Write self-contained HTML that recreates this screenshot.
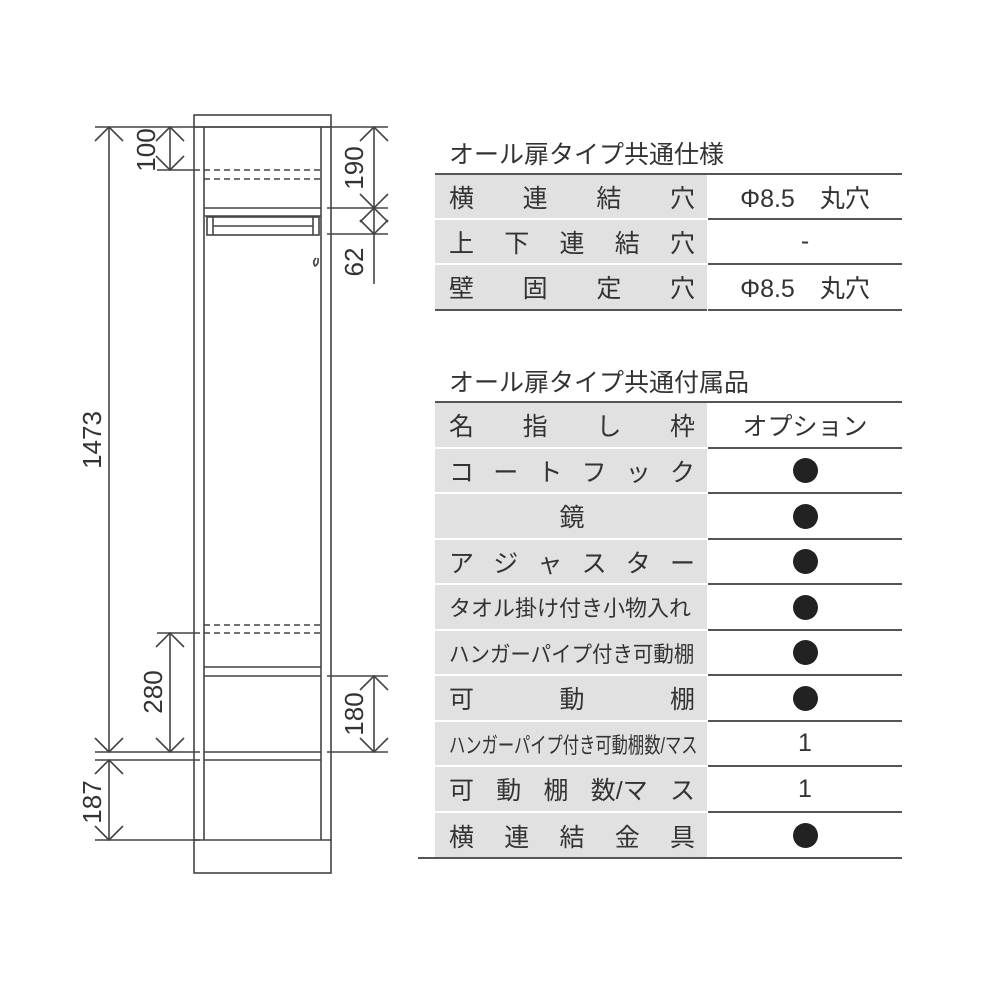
<!DOCTYPE html>
<html><head><meta charset="utf-8"><style>
body{margin:0;background:#fff;}
#w{position:relative;width:1000px;height:1000px;overflow:hidden;font-family:"Liberation Sans","Noto Sans CJK JP",sans-serif;color:#333;}
.t{position:absolute;font-size:25px;left:449px;white-space:nowrap;}
.tb{position:absolute;left:435px;width:467px;}
.r{position:absolute;left:0;width:467px;}
.l{position:absolute;left:0;top:0;bottom:2px;width:272px;background:#e1e1e1;display:flex;justify-content:space-between;align-items:center;padding:0 12px 0 14px;box-sizing:border-box;font-size:25px;white-space:nowrap;}
.v{position:absolute;left:273px;right:0;top:0;bottom:0;border-bottom:2px solid #555;display:flex;justify-content:center;align-items:center;font-size:25px;white-space:nowrap;}
.d{width:25px;height:25px;border-radius:50%;background:#222;}
.s{display:inline-block;transform-origin:left center;}
</style></head><body><div id="w">
<svg width="1000" height="1000" style="position:absolute;left:0;top:0" stroke="#444" fill="none" stroke-width="1.6">
<rect x="194" y="115" width="137" height="758"/>
<line x1="194" y1="127" x2="331" y2="127"/>
<line x1="204" y1="127" x2="204" y2="840"/>
<line x1="321" y1="127" x2="321" y2="840"/>
<line x1="194" y1="840" x2="331" y2="840"/>
<g stroke-dasharray="6,4"><line x1="204" y1="170" x2="321" y2="170"/><line x1="204" y1="179" x2="321" y2="179"/><line x1="204" y1="625" x2="321" y2="625"/><line x1="204" y1="633" x2="321" y2="633"/></g>
<line x1="204" y1="208" x2="321" y2="208"/><line x1="204" y1="216" x2="321" y2="216"/>
<rect x="207" y="217" width="112" height="18"/><line x1="213" y1="217" x2="213" y2="235"/><line x1="313" y1="217" x2="313" y2="235"/><line x1="213" y1="226" x2="313" y2="226"/>
<path d="M316 258 q-4 4 -1 8 q4 -2 3 -8"/>
<line x1="204" y1="667" x2="321" y2="667"/><line x1="204" y1="676" x2="321" y2="676"/>
<line x1="204" y1="752" x2="321" y2="752"/><line x1="204" y1="760" x2="321" y2="760"/>
<line x1="95" y1="127" x2="388" y2="127"/>
<line x1="157" y1="170" x2="200" y2="170"/>
<line x1="157" y1="633" x2="200" y2="633"/>
<line x1="95" y1="752" x2="200" y2="752"/><line x1="95" y1="760" x2="200" y2="760"/>
<line x1="95" y1="840" x2="200" y2="840"/>
<line x1="327" y1="208" x2="388" y2="208"/><line x1="327" y1="234" x2="388" y2="234"/>
<line x1="327" y1="676" x2="388" y2="676"/><line x1="327" y1="752" x2="388" y2="752"/>
<line x1="109" y1="127" x2="109" y2="752"/>
<line x1="109" y1="760" x2="109" y2="840"/>
<line x1="170" y1="127" x2="170" y2="170"/>
<line x1="170" y1="633" x2="170" y2="752"/>
<line x1="374" y1="127" x2="374" y2="284"/>
<line x1="374" y1="676" x2="374" y2="752"/>
<g>
<path d="M95 141 L109 127 L123 141"/><path d="M95 738 L109 752 L123 738"/>
<path d="M95 774 L109 760 L123 774"/><path d="M95 826 L109 840 L123 826"/>
<path d="M156 141 L170 127 L184 141"/><path d="M156 156 L170 170 L184 156"/>
<path d="M156 647 L170 633 L184 647"/><path d="M156 738 L170 752 L184 738"/>
<path d="M360 141 L374 127 L388 141"/><path d="M360 194 L374 208 L388 194"/>
<path d="M360 222 L374 208 L388 222"/><path d="M360 220 L374 234 L388 220"/>
<path d="M360 690 L374 676 L388 690"/><path d="M360 738 L374 752 L388 738"/>
</g>
<g fill="#333" stroke="none" font-family="Liberation Sans,sans-serif" font-size="26">
<text transform="translate(155,150) rotate(-90)" text-anchor="middle">100</text>
<text transform="translate(101,440) rotate(-90)" text-anchor="middle">1473</text>
<text transform="translate(363,168) rotate(-90)" text-anchor="middle">190</text>
<text transform="translate(363,262) rotate(-90)" text-anchor="middle">62</text>
<text transform="translate(162,692) rotate(-90)" text-anchor="middle">280</text>
<text transform="translate(363,714) rotate(-90)" text-anchor="middle">180</text>
<text transform="translate(101,802) rotate(-90)" text-anchor="middle">187</text>
</g>
</svg>
<div class="t" style="top:135px">オール扉タイプ共通仕様</div>
<div style="position:absolute;left:435px;top:173px;width:467px;height:2px;background:#555"></div>
<div class="tb" style="top:175px">
<div class="r" style="top:0;height:45px"><div class="l"><span>横</span><span>連</span><span>結</span><span>穴</span></div><div class="v"><span>Φ8.5　丸穴</span></div></div>
<div class="r" style="top:45px;height:45px"><div class="l"><span>上</span><span>下</span><span>連</span><span>結</span><span>穴</span></div><div class="v">-</div></div>
<div class="r" style="top:90px;height:46px"><div class="l"><span>壁</span><span>固</span><span>定</span><span>穴</span></div><div class="v"><span>Φ8.5　丸穴</span></div></div>
</div>
<div style="position:absolute;left:435px;top:309px;width:272px;height:2px;background:#555"></div>
<div class="t" style="top:363px">オール扉タイプ共通付属品</div>
<div style="position:absolute;left:435px;top:401px;width:467px;height:2px;background:#555"></div>
<div class="tb" style="top:403px">
<div class="r" style="top:0;height:46px"><div class="l"><span>名</span><span>指</span><span>し</span><span>枠</span></div><div class="v">オプション</div></div>
<div class="r" style="top:46px;height:45px"><div class="l"><span>コ</span><span>ー</span><span>ト</span><span>フ</span><span>ッ</span><span>ク</span></div><div class="v"><div class="d"></div></div></div>
<div class="r" style="top:91px;height:46px"><div class="l" style="justify-content:center"><span>鏡</span></div><div class="v"><div class="d"></div></div></div>
<div class="r" style="top:137px;height:45px"><div class="l"><span>ア</span><span>ジ</span><span>ャ</span><span>ス</span><span>タ</span><span>ー</span></div><div class="v"><div class="d"></div></div></div>
<div class="r" style="top:182px;height:46px"><div class="l" style="font-size:22px"><span class="s">タオル掛け付き小物入れ</span></div><div class="v"><div class="d"></div></div></div>
<div class="r" style="top:228px;height:45px"><div class="l" style="font-size:22px"><span class="s" style="transform:scaleX(.93)">ハンガーパイプ付き可動棚</span></div><div class="v"><div class="d"></div></div></div>
<div class="r" style="top:273px;height:46px"><div class="l"><span>可</span><span>動</span><span>棚</span></div><div class="v"><div class="d"></div></div></div>
<div class="r" style="top:319px;height:45px"><div class="l" style="font-size:22px"><span class="s" style="transform:scaleX(.74)">ハンガーパイプ付き可動棚数/マス</span></div><div class="v">1</div></div>
<div class="r" style="top:364px;height:46px"><div class="l"><span>可</span><span>動</span><span>棚</span><span>数/マ</span><span>ス</span></div><div class="v">1</div></div>
<div class="r" style="top:410px;height:45px"><div class="l" style="bottom:0"><span>横</span><span>連</span><span>結</span><span>金</span><span>具</span></div><div class="v" style="border-bottom:none"><div class="d"></div></div></div>
</div>
<div style="position:absolute;left:418px;top:857px;width:484px;height:2px;background:#555"></div>
</div></body></html>
